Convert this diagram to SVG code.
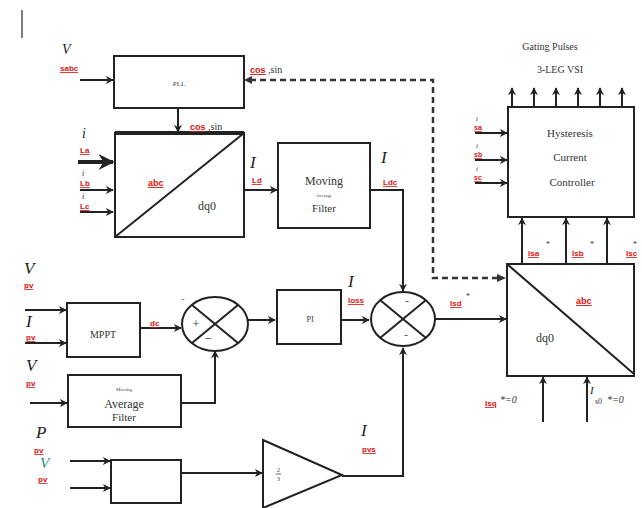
<svg xmlns="http://www.w3.org/2000/svg" width="642" height="508" viewBox="0 0 642 508">
<defs>
<marker id="ar" viewBox="0 0 10 10" refX="9" refY="5" markerWidth="4" markerHeight="4" orient="auto-start-reverse" markerUnits="strokeWidth">
<path d="M0,0 L10,5 L0,10 L3,5 z" fill="#222"/>
</marker>
<style>
.b{fill:#fff;stroke:#222;stroke-width:2}
.l{fill:none;stroke:#222;stroke-width:2}
.a{fill:none;stroke:#222;stroke-width:2;marker-end:url(#ar)}
.d{fill:none;stroke:#333;stroke-width:2.5;stroke-dasharray:6,4}
.t{font-family:"Liberation Serif",serif;font-size:11px;fill:#333}
.v{font-family:"Liberation Serif",serif;font-style:italic;font-size:17px;fill:#222}
.s{font-family:"Liberation Sans",sans-serif;font-size:8px;fill:#d11;font-weight:bold;text-decoration:underline wavy #d11}
.k{font-family:"Liberation Serif",serif;font-size:10px;fill:#444}
</style>
</defs>
<rect width="642" height="508" fill="#fff"/>
<line x1="22" y1="10" x2="22" y2="38" stroke="#555" stroke-width="1.5"/>

<g id="connectors">
<path class="a" d="M80,80 H113"/>
<path class="a" d="M178,108 V132"/>
<path class="a" d="M78,162 H113" style="stroke-width:4"/>
<path class="a" d="M80,190 H113"/>
<path class="a" d="M80,212 H113"/>
<path class="a" d="M244,190 H277"/>
<path class="a" d="M370,190 H403 V291"/>
<path class="d" d="M250,80 H433 V278 H498"/>
<path d="M244,80 L252,76 L252,84 z" fill="#333"/>
<path d="M506,278 L497,274 L497,282 z" fill="#333"/>
<path class="a" d="M25,310 H66"/>
<path class="a" d="M25,343 H66"/>
<path class="a" d="M30,403 H67"/>
<path class="a" d="M140,328 H181"/>
<path class="a" d="M181,403 H215 V351"/>
<path class="a" d="M248,320 H275"/>
<path class="a" d="M341,320 H369"/>
<path class="a" d="M435,319 H506"/>
<path class="a" d="M70,461 H110"/>
<path class="a" d="M70,488 H110"/>
<path class="a" d="M181,473 H262"/>
<path class="a" d="M342,476 H403 V348"/>
<path class="a" d="M543,422 V377"/>
<path class="a" d="M587,422 V377"/>
<path class="a" d="M522,264 V218"/>
<path class="a" d="M566,264 V218"/>
<path class="a" d="M607,264 V218"/>
<path class="a" d="M475,133 H507"/>
<path class="a" d="M475,160 H507"/>
<path class="a" d="M475,183 H507"/>
<path class="a" d="M512,107 V88"/>
<path class="a" d="M534,107 V88"/>
<path class="a" d="M556,107 V88"/>
<path class="a" d="M578,107 V88"/>
<path class="a" d="M600,107 V88"/>
<path class="a" d="M622,107 V88"/>
</g>

<g id="pll">
<rect class="b" x="114" y="56" width="130" height="52"/>
<text class="k" x="179" y="86" text-anchor="middle" style="font-size:7px">PLL</text>
</g>
<g id="abc-dq0">
<rect class="b" x="115" y="133" width="129" height="104"/>
<line x1="115" y1="133" x2="244" y2="133" stroke="#222" stroke-width="4"/>
<line class="l" x1="115" y1="237" x2="244" y2="133"/>
<text class="s" x="148" y="186" style="font-size:9px">abc</text>
<text class="t" x="198" y="210" style="font-size:12px">dq0</text>
</g>
<g id="moving-filter">
<rect class="b" x="278" y="143" width="92" height="85"/>
<text class="t" x="324" y="185" text-anchor="middle" style="font-size:12px">Moving</text>
<text class="k" x="324" y="197" text-anchor="middle" style="font-size:5px">Average</text>
<text class="t" x="324" y="212" text-anchor="middle" style="font-size:11px">Filter</text>
</g>
<g id="hysteresis">
<rect class="b" x="508" y="107" width="126" height="110"/>
<text class="t" x="570" y="137" text-anchor="middle">Hysteresis</text>
<text class="t" x="570" y="161" text-anchor="middle">Current</text>
<text class="t" x="572" y="186" text-anchor="middle">Controller</text>
</g>
<g id="gating">
<text class="t" x="550" y="50" text-anchor="middle" style="font-size:10px">Gating Pulses</text>
<text class="t" x="560" y="73" text-anchor="middle" style="font-size:10px">3-LEG VSI</text>
</g>
<g id="dq0-abc">
<rect class="b" x="507" y="264" width="127" height="112"/>
<line class="l" x1="507" y1="264" x2="634" y2="374"/>
<text class="s" x="576" y="304" style="font-size:9px">abc</text>
<text class="t" x="536" y="342" style="font-size:12px">dq0</text>
</g>
<g id="mppt">
<rect class="b" x="67" y="303" width="73" height="54"/>
<text class="t" x="103" y="338" text-anchor="middle" style="font-size:10px">MPPT</text>
</g>
<g id="avg-filter">
<rect class="b" x="68" y="375" width="113" height="52"/>
<text class="k" x="124" y="391" text-anchor="middle" style="font-size:5px">Moving</text>
<text class="t" x="124" y="408" text-anchor="middle" style="font-size:12px">Average</text>
<text class="t" x="124" y="421" text-anchor="middle" style="font-size:11px">Filter</text>
</g>
<g id="sum1">
<ellipse class="b" cx="215" cy="324" rx="33" ry="27"/>
<line class="l" x1="192" y1="305" x2="238" y2="343"/>
<line class="l" x1="192" y1="343" x2="238" y2="305"/>
<text class="t" x="196" y="328" text-anchor="middle" style="font-size:13px">+</text>
<text class="t" x="208" y="343" text-anchor="middle" style="font-size:13px">−</text>
<text class="t" x="183" y="302" text-anchor="middle" style="font-size:9px">-</text>
</g>
<g id="pi">
<rect class="b" x="277" y="290" width="64" height="54"/>
<text class="t" x="310" y="322" text-anchor="middle" style="font-size:8px">PI</text>
</g>
<g id="sum2">
<ellipse class="b" cx="403" cy="319" rx="32" ry="27"/>
<line class="l" x1="380" y1="300" x2="426" y2="338"/>
<line class="l" x1="380" y1="338" x2="426" y2="300"/>
<text class="t" x="407" y="304" text-anchor="middle" style="font-size:11px">-</text>
<text class="t" x="406" y="338" text-anchor="middle" style="font-size:11px">-</text>
</g>
<g id="power-box">
<rect class="b" x="111" y="460" width="70" height="43"/>
</g>
<g id="gain">
<path class="b" d="M263,440 L342,475 L263,508 z"/>
<text class="k" x="277" y="472" style="font-size:6px">2</text>
<line x1="276" y1="474" x2="281" y2="474" stroke="#444" stroke-width="0.8"/>
<text class="k" x="277" y="481" style="font-size:6px">3</text>
</g>

<g id="labels">
<text class="v" x="62" y="54" style="font-size:14px">V</text>
<text class="s" x="60" y="71">sabc</text>
<text class="t" x="250" y="73" style="font-size:10px"><tspan class="s" style="font-size:9px">cos</tspan> ,sin</text>
<text class="t" x="190" y="130" style="font-size:10px"><tspan class="s" style="font-size:9px">cos</tspan> ,sin</text>
<text class="v" x="82" y="138" style="font-size:14px">i</text>
<text class="s" x="80" y="153">La</text>
<text class="v" x="82" y="176" style="font-size:8px">i</text>
<text class="s" x="80" y="186">Lb</text>
<text class="v" x="82" y="199" style="font-size:8px">i</text>
<text class="s" x="80" y="209">Lc</text>
<text class="v" x="250" y="168">I</text>
<text class="s" x="252" y="183">Ld</text>
<text class="v" x="381" y="163">I</text>
<text class="s" x="383" y="185">Ldc</text>
<text class="v" x="476" y="121" style="font-size:7px">i</text>
<text class="s" x="474" y="130" style="font-size:7px">sa</text>
<text class="v" x="476" y="148" style="font-size:7px">i</text>
<text class="s" x="474" y="157" style="font-size:7px">sb</text>
<text class="v" x="476" y="171" style="font-size:7px">i</text>
<text class="s" x="474" y="180" style="font-size:7px">sc</text>
<text class="s" x="528" y="256">Isa</text><text class="t" x="546" y="247" style="font-size:8px">*</text>
<text class="s" x="572" y="256">Isb</text><text class="t" x="590" y="247" style="font-size:8px">*</text>
<text class="s" x="626" y="256">Isc</text><text class="t" x="633" y="247" style="font-size:8px">*</text>
<text class="v" x="24" y="274">V</text>
<text class="s" x="24" y="288">pv</text>
<text class="v" x="26" y="327">I</text>
<text class="s" x="26" y="340">pv</text>
<text class="v" x="26" y="371">V</text>
<text class="s" x="26" y="386">pv</text>
<text class="s" x="150" y="326">dc</text>
<text class="v" x="348" y="287">I</text>
<text class="s" x="348" y="303">loss</text>
<text class="s" x="450" y="306">Isd</text><text class="t" x="466" y="299" style="font-size:8px">*</text>
<text class="v" x="36" y="438">P</text>
<text class="s" x="34" y="453">pv</text>
<text class="v" x="40" y="468" style="font-size:15px;fill:#2a8a7a">V</text>
<text class="s" x="38" y="482">pv</text>
<text class="v" x="361" y="436">I</text>
<text class="s" x="362" y="452">pvs</text>
<text class="s" x="485" y="406">Isq</text><text class="t" x="500" y="403" style="font-size:10px;font-style:italic">*=0</text>
<text class="v" x="590" y="394" style="font-size:11px">I</text>
<text class="t" x="595" y="404" style="font-size:8px">s0</text><text class="t" x="607" y="403" style="font-size:10px;font-style:italic">*=0</text>
</g>
</svg>
